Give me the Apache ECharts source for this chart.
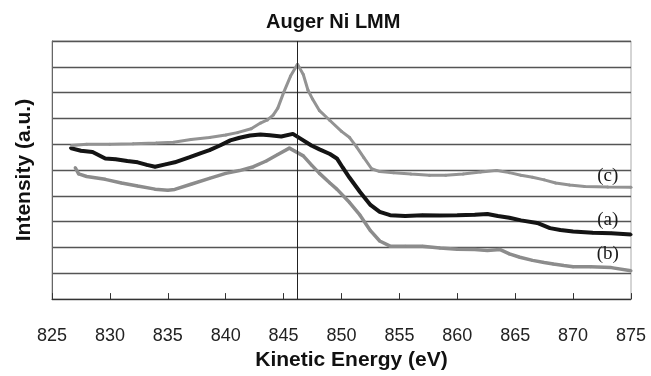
<!DOCTYPE html>
<html>
<head>
<meta charset="utf-8">
<script src="https://cdn.jsdelivr.net/npm/echarts@6/dist/echarts.min.js"></script>
<style>
  html, body { margin: 0; padding: 0; background: #fff; }
  #main { width: 651px; height: 376px; }
</style>
</head>
<body>
<div id="main"></div>
<script>
// kinetic energy (eV) / intensity pairs
const curveC = [
  [826.7, 5.95], [828, 6.0], [830, 6.0], [832, 6.02], [834, 6.05], [835.5, 6.08],
  [837, 6.18], [838.6, 6.26], [840, 6.36], [841, 6.45], [842.2, 6.6], [843, 6.82],
  [843.6, 6.94], [844.1, 7.13], [844.5, 7.4], [845, 8.0], [845.6, 8.64], [846.2, 9.1],
  [846.7, 8.7], [847.1, 8.1], [847.5, 7.75], [848.1, 7.3], [849, 6.92], [850, 6.5],
  [850.7, 6.26], [851.3, 5.9], [851.9, 5.5], [852.6, 5.05], [853.3, 4.94], [854.5, 4.9],
  [856, 4.85], [857.6, 4.8], [859, 4.8], [860.5, 4.85], [862, 4.92], [863.4, 4.98],
  [864.5, 4.9], [865.5, 4.8], [866.5, 4.72], [867.5, 4.62], [868.5, 4.5], [869.7, 4.42],
  [871, 4.36], [873, 4.34], [875, 4.33]
]
const curveA = [
  [826.6, 5.85], [827.5, 5.75], [828.5, 5.7], [829.6, 5.45], [830.5, 5.42], [831.5, 5.35],
  [832.4, 5.3], [833.2, 5.2], [833.9, 5.13], [834.8, 5.22], [835.6, 5.3], [836.9, 5.5],
  [837.8, 5.65], [838.6, 5.77], [839.5, 5.95], [840.4, 6.15], [841.2, 6.25], [842.1, 6.34],
  [843, 6.38], [843.8, 6.35], [844.8, 6.3], [845.8, 6.4], [846.7, 6.15], [847.4, 5.95],
  [848.1, 5.8], [849, 5.62], [849.6, 5.45], [850.1, 5.1], [850.7, 4.7], [851.6, 4.15],
  [852.5, 3.65], [853.3, 3.38], [854.2, 3.25], [855.5, 3.22], [857, 3.25], [858.5, 3.24],
  [860, 3.25], [861.5, 3.27], [862.6, 3.3], [863.5, 3.22], [864.5, 3.15], [865.5, 3.05],
  [866.9, 2.95], [868, 2.75], [868.9, 2.68], [870, 2.62], [871.7, 2.57], [873.3, 2.55],
  [875, 2.5]
]
const curveB = [
  [827, 5.1], [827.3, 4.85], [828, 4.75], [829.6, 4.64], [831, 4.5], [832.4, 4.38],
  [833.9, 4.26], [835, 4.22], [835.6, 4.25], [837, 4.45], [838.6, 4.68], [840, 4.87],
  [841.2, 4.98], [842.4, 5.13], [843.5, 5.35], [844.5, 5.6], [845.5, 5.85], [846.7, 5.55],
  [847.4, 5.2], [848.1, 4.87], [849, 4.5], [849.6, 4.26], [850.7, 3.74], [851.6, 3.25],
  [852.5, 2.65], [853.3, 2.25], [854.2, 2.05], [855.5, 2.05], [857, 2.05], [858.5, 1.98],
  [860, 1.93], [861.5, 1.92], [862.6, 1.88], [863.7, 1.92], [864.5, 1.75], [865.4, 1.62],
  [866.5, 1.5], [867.5, 1.42], [868.3, 1.36], [869.2, 1.3], [870, 1.25], [871.5, 1.25],
  [873.3, 1.22], [875, 1.1]
]
const seriesNames = ['(a)', '(b)', '(c)']
const labelAt = { '(a)': [873, 3.06], '(b)': [873, 1.74], '(c)': [873, 4.75] }
const peakEnergy = 846.2

const chart = echarts.init(document.getElementById('main'), null, { renderer: 'canvas' })

function makeSeries(name, data, color, width) {
  return {
    name: name,
    type: 'line',
    data: data,
    showSymbol: true,
    symbol: 'circle',
    symbolSize: 3,
    itemStyle: { color: color },
    lineStyle: { color: color, width: width },
    silent: true,
    z: 3,
    markPoint: {
      symbolSize: 0,
      silent: true,
      label: {
        show: true,
        formatter: name,
        color: '#1a1a1a',
        fontFamily: 'Liberation Serif, Times New Roman, serif',
        fontSize: 19,
        position: 'inside'
      },
      data: [{ coord: labelAt[name] }]
    }
  }
}

chart.setOption({
  animation: false,
  backgroundColor: '#fff',
  title: {
    text: 'Auger Ni LMM',
    left: 261,
    top: 7,
    textStyle: {
      fontFamily: 'Liberation Sans, Arial, sans-serif',
      fontSize: 20,
      fontWeight: 'bold',
      color: '#111'
    }
  },
  grid: {
    left: 52, right: 20, top: 41, bottom: 70,
    show: true,
    borderColor: '#aaa',
    borderWidth: 1
  },
  xAxis: {
    type: 'value',
    min: 825,
    max: 875,
    interval: 5,
    name: 'Kinetic Energy (eV)',
    nameLocation: 'middle',
    nameGap: 48,
    nameTextStyle: {
      fontFamily: 'Liberation Sans, Arial, sans-serif',
      fontSize: 21,
      fontWeight: 'bold',
      color: '#111',
      padding: [0, 0, 0, 20]
    },
    axisLine: { lineStyle: { color: '#333', width: 1 } },
    axisTick: { inside: true, length: 6, lineStyle: { color: '#333' } },
    axisLabel: {
      margin: 28,
      fontFamily: 'Liberation Sans, Arial, sans-serif',
      fontSize: 18,
      color: '#222'
    },
    splitLine: { show: false }
  },
  yAxis: {
    type: 'value',
    min: 0,
    max: 10,
    interval: 1,
    name: 'Intensity (a.u.)',
    nameLocation: 'middle',
    nameGap: 17,
    nameTextStyle: {
      fontFamily: 'Liberation Sans, Arial, sans-serif',
      fontSize: 21,
      fontWeight: 'bold',
      color: '#111'
    },
    axisLine: { show: true, lineStyle: { color: '#666', width: 1 } },
    axisTick: { show: false },
    axisLabel: { show: false },
    splitLine: { lineStyle: { color: '#555', width: 1.3 } }
  },
  series: [
    makeSeries(seriesNames[0], curveA, '#141414', 4),
    makeSeries(seriesNames[1], curveB, '#8c8c8c', 3.5),
    makeSeries(seriesNames[2], curveC, '#939393', 3),
    {
      type: 'line',
      data: [],
      silent: true,
      markLine: {
        symbol: 'none',
        silent: true,
        label: { show: false },
        lineStyle: { color: '#222', width: 1, type: 'solid' },
        data: [{ xAxis: peakEnergy }]
      }
    }
  ]
})
</script>
</body>
</html>
